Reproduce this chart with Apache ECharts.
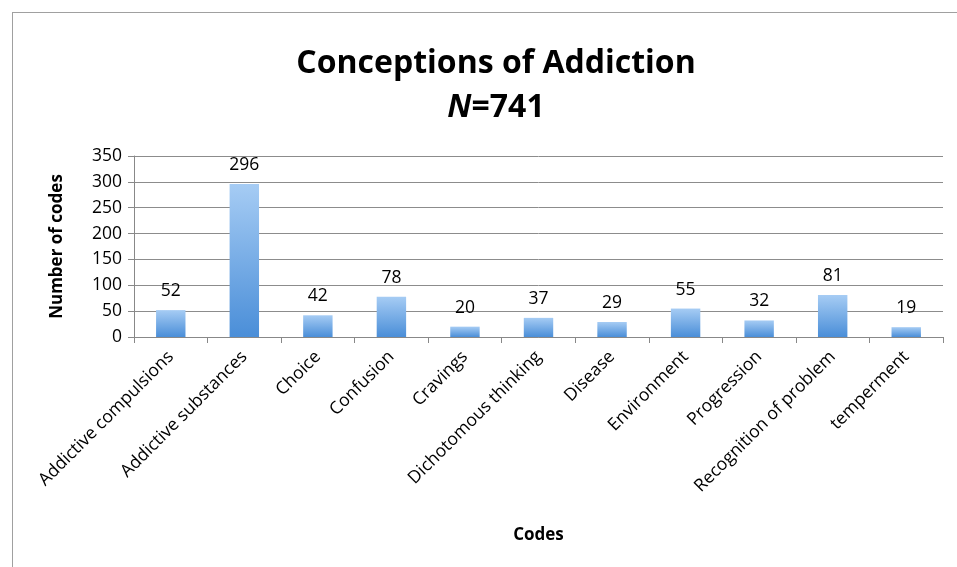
<!DOCTYPE html>
<html>
<head>
<meta charset="utf-8">
<script src="https://cdn.jsdelivr.net/npm/echarts@6/dist/echarts.min.js"></script>
<style>
  html, body { margin: 0; padding: 0; background: #fff; }
  #frame {
    position: absolute; left: 12px; top: 12px; width: 960px; height: 570px;
    border: 1px solid #a0a0a0; box-sizing: border-box;
  }
  #chart { position: absolute; left: 0; top: 0; width: 957px; height: 567px; }
</style>
</head>
<body>
<div id="frame"></div>
<div id="chart"></div>
<script>
const categories = ['Addictive compulsions', 'Addictive substances', 'Choice', 'Confusion', 'Cravings',
  'Dichotomous thinking', 'Disease', 'Environment', 'Progression', 'Recognition of problem', 'temperment'];
const counts = [52, 296, 42, 78, 20, 37, 29, 55, 32, 81, 19];
const yTicks = [0, 350, 50]; // min, max, interval

const font = '"Open Sans", "Liberation Sans", sans-serif';
const chart = echarts.init(document.getElementById('chart'));

chart.setOption({
  animation: false,
  textStyle: { fontFamily: font },
  title: {
    text: 'Conceptions of Addiction\n{i|N}=741',
    left: 491,
    top: 37,
    textAlign: 'center',
    textStyle: {
      fontFamily: font,
      fontSize: 32,
      fontWeight: 'bold',
      color: '#000',
      lineHeight: 44,
      rich: {
        i: { fontFamily: font, fontSize: 32, fontWeight: 'bold', fontStyle: 'italic', color: '#000' },
      },
    },
  },
  grid: {
    left: 134,
    right: 14,
    top: 156,
    bottom: 230,
    containLabel: false,
  },
  xAxis: {
    type: 'category',
    data: categories,
    name: 'Codes',
    nameLocation: 'middle',
    nameGap: 190,
    nameTextStyle: { fontFamily: font, fontSize: 17, fontWeight: 'bold', color: '#000' },
    axisLine: { lineStyle: { color: '#888' } },
    axisTick: { show: true, length: 6, lineStyle: { color: '#888' } },
    axisLabel: {
      rotate: 45,
      interval: 0,
      fontSize: 17.5,
      color: '#000',
      margin: 17,
    },
  },
  yAxis: {
    type: 'value',
    min: yTicks[0],
    max: yTicks[1],
    interval: yTicks[2],
    name: 'Number of codes',
    nameLocation: 'middle',
    nameGap: 68,
    nameTextStyle: { fontFamily: font, fontSize: 17, fontWeight: 'bold', color: '#000' },
    axisLine: { show: true, lineStyle: { color: '#888' } },
    axisTick: { show: true, length: 6, lineStyle: { color: '#888' } },
    axisLabel: { fontSize: 17.5, color: '#000', margin: 12 },
    splitLine: { lineStyle: { color: '#8c8c8c', width: 1 } },
  },
  series: [
    {
      type: 'bar',
      data: counts,
      barWidth: '40%',
      itemStyle: {
        color: new echarts.graphic.LinearGradient(0, 0, 0, 1, [
          { offset: 0, color: '#a6ccf4' },
          { offset: 1, color: '#4a8ed8' },
        ]),
      },
      label: {
        show: true,
        position: 'top',
        distance: 10,
        fontSize: 17.5,
        color: '#000',
      },
    },
  ],
});
</script>
</body>
</html>
